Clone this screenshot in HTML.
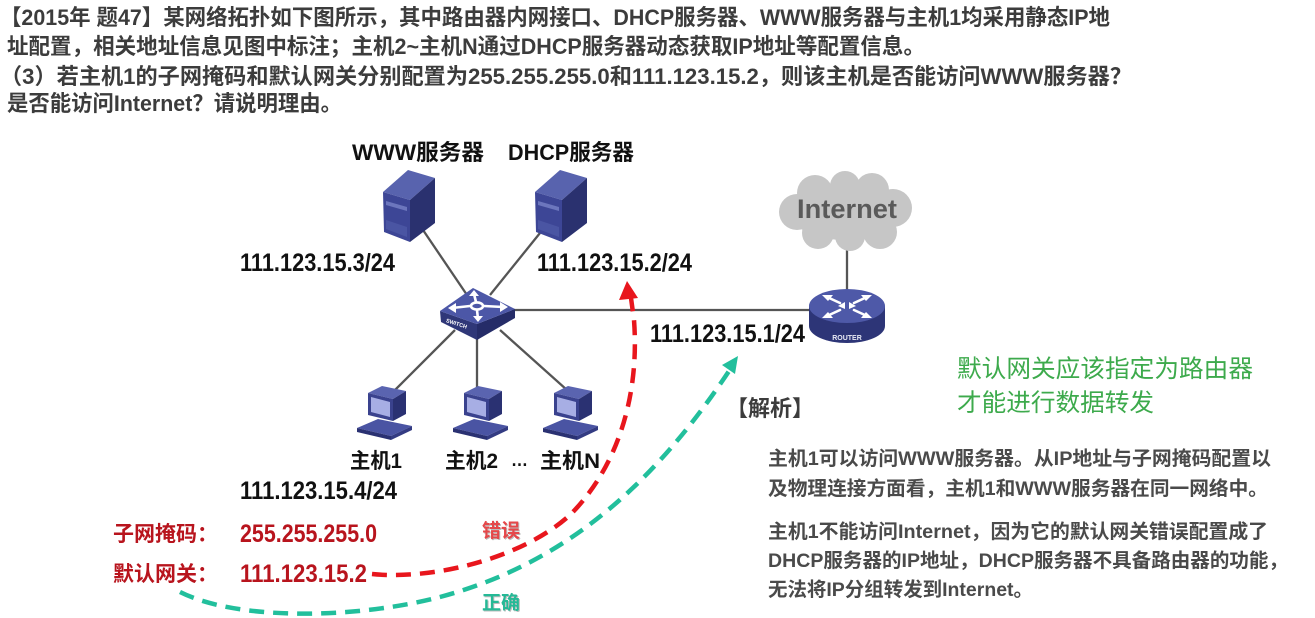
<!DOCTYPE html>
<html><head><meta charset="utf-8"><style>
html,body{margin:0;padding:0;background:#fff;width:1315px;height:618px;overflow:hidden}
svg{display:block}
</style></head><body>
<svg width="1315" height="618" viewBox="0 0 1315 618" xmlns="http://www.w3.org/2000/svg" font-family="'Liberation Sans','Noto Sans CJK SC',sans-serif">
<rect width="1315" height="618" fill="#fff"/>

<!-- Title -->
<g font-size="22" font-weight="bold" fill="#3c3c3c">
<text x="0" y="25" textLength="1110" lengthAdjust="spacingAndGlyphs">【2015年 题47】某网络拓扑如下图所示，其中路由器内网接口、DHCP服务器、WWW服务器与主机1均采用静态IP地</text>
<text x="7" y="54" textLength="918" lengthAdjust="spacingAndGlyphs">址配置，相关地址信息见图中标注；主机2~主机N通过DHCP服务器动态获取IP地址等配置信息。</text>
<text x="0" y="84" textLength="1132" lengthAdjust="spacingAndGlyphs">（3）若主机1的子网掩码和默认网关分别配置为255.255.255.0和111.123.15.2，则该主机是否能访问WWW服务器？</text>
<text x="7" y="111" textLength="335" lengthAdjust="spacingAndGlyphs">是否能访问Internet？请说明理由。</text>
</g>

<!-- network lines -->
<g stroke="#555" stroke-width="2.3" fill="none">
<line x1="423" y1="230" x2="467" y2="295"/>
<line x1="540" y1="233" x2="490" y2="295"/>
<line x1="512" y1="310" x2="812" y2="310"/>
<line x1="847" y1="250" x2="847" y2="292"/>
<line x1="455" y1="330" x2="393" y2="392"/>
<line x1="477" y1="338" x2="477" y2="390"/>
<line x1="500" y1="330" x2="567" y2="390"/>
</g>

<!-- Servers -->
<g>
<polygon points="383,192 408,170 435,178 410,200" fill="#5863ae"/>
<polygon points="383,192 410,200 410,242 384,232" fill="#3d4696"/>
<polygon points="410,200 435,178 435,223 410,242" fill="#2a316f"/>
<polygon points="386,201 407,207 407,211 386,205" fill="#6c76bd"/>
<polygon points="386,220 407,227 407,237 386,229" fill="#4a55a3"/>
</g>
<g transform="translate(152,0)">
<polygon points="383,192 408,170 435,178 410,200" fill="#5863ae"/>
<polygon points="383,192 410,200 410,242 384,232" fill="#3d4696"/>
<polygon points="410,200 435,178 435,223 410,242" fill="#2a316f"/>
<polygon points="386,201 407,207 407,211 386,205" fill="#6c76bd"/>
<polygon points="386,220 407,227 407,237 386,229" fill="#4a55a3"/>
</g>

<!-- Switch -->
<polygon points="440,311 477,324 477,340 441,322" fill="#2f3778"/>
<polygon points="477,324 515,309 515,318 477,340" fill="#252c68"/>
<polygon points="440,311 473,288 515,309 477,324" fill="#4c57a7"/>
<g stroke="#fff" stroke-width="2.6" fill="none" stroke-linecap="round">
<ellipse cx="477" cy="306" rx="6" ry="3.6"/>
<line x1="470" y1="306" x2="452" y2="308"/>
<line x1="484" y1="306" x2="503" y2="307"/>
<line x1="476" y1="302" x2="474" y2="294"/>
<line x1="477" y1="310" x2="478" y2="319"/>
</g>
<g fill="#fff">
<polygon points="448,308 456,303 456,313"/>
<polygon points="508,307 500,302 500,312"/>
<polygon points="474,290 469,296 479,296"/>
<polygon points="478,322 473,316 483,316"/>
</g>
<text x="445" y="326" font-size="5.5" fill="#fff" font-weight="bold" transform="rotate(18 458 326)">SWITCH</text>

<!-- Router -->
<path d="M809,306 L809,326 A38,17 0 0 0 885,326 L885,306 Z" fill="#2d3577"/>
<ellipse cx="847" cy="306" rx="38" ry="17" fill="#4e59a8"/>
<g stroke="#fff" stroke-width="2.6" fill="none" stroke-linecap="round">
<line x1="827" y1="297" x2="840" y2="303"/>
<line x1="867" y1="297" x2="854" y2="303"/>
<line x1="827" y1="316" x2="840" y2="310"/>
<line x1="867" y1="316" x2="854" y2="310"/>
</g>
<g fill="#fff">
<polygon points="822,295 833,295 828,301"/>
<polygon points="872,295 861,295 866,301"/>
<polygon points="838,306 845,302 845,309"/>
<polygon points="856,306 849,302 849,309"/>
<polygon points="822,318 833,318 828,312"/>
<polygon points="872,318 861,318 866,312"/>
</g>
<text x="847" y="340" font-size="7" font-weight="bold" fill="#e8eaf5" text-anchor="middle">ROUTER</text>

<!-- Cloud -->
<g fill="#c6c6c6">
<ellipse cx="845" cy="212" rx="55" ry="28"/>
<circle cx="797" cy="212" r="18"/>
<circle cx="815" cy="193" r="18"/>
<circle cx="845" cy="186" r="15"/>
<circle cx="872" cy="190" r="17"/>
<circle cx="893" cy="208" r="19"/>
<circle cx="880" cy="232" r="17"/>
<circle cx="850" cy="236" r="15"/>
<circle cx="818" cy="233" r="16"/>
</g>
<text x="797" y="218" font-size="27" font-weight="bold" fill="#5a5a5a" textLength="100" lengthAdjust="spacingAndGlyphs">Internet</text>

<!-- Hosts -->
<g>
<polygon points="368,393 382,386 406,391 393,399" fill="#5a64b0"/>
<polygon points="368,393 393,399 393,421 368,415" fill="#3a428e"/>
<polygon points="371,397 390,402 390,417 371,412" fill="#a7aee4"/>
<polygon points="393,399 406,391 406,414 393,421" fill="#2a3172"/>
<polygon points="357,428 378,419 412,426 391,436" fill="#4a54a3"/>
<polygon points="357,428 391,436 391,440 357,432" fill="#2a3172"/>
<polygon points="391,436 412,426 412,430 391,440" fill="#333b82"/>
</g>
<g transform="translate(96,0)">
<polygon points="368,393 382,386 406,391 393,399" fill="#5a64b0"/>
<polygon points="368,393 393,399 393,421 368,415" fill="#3a428e"/>
<polygon points="371,397 390,402 390,417 371,412" fill="#a7aee4"/>
<polygon points="393,399 406,391 406,414 393,421" fill="#2a3172"/>
<polygon points="357,428 378,419 412,426 391,436" fill="#4a54a3"/>
<polygon points="357,428 391,436 391,440 357,432" fill="#2a3172"/>
<polygon points="391,436 412,426 412,430 391,440" fill="#333b82"/>
</g>
<g transform="translate(186,0)">
<polygon points="368,393 382,386 406,391 393,399" fill="#5a64b0"/>
<polygon points="368,393 393,399 393,421 368,415" fill="#3a428e"/>
<polygon points="371,397 390,402 390,417 371,412" fill="#a7aee4"/>
<polygon points="393,399 406,391 406,414 393,421" fill="#2a3172"/>
<polygon points="357,428 378,419 412,426 391,436" fill="#4a54a3"/>
<polygon points="357,428 391,436 391,440 357,432" fill="#2a3172"/>
<polygon points="391,436 412,426 412,430 391,440" fill="#333b82"/>
</g>

<!-- Diagram labels -->
<g font-weight="bold" fill="#111">
<text x="352" y="160" font-size="22" textLength="132" lengthAdjust="spacingAndGlyphs">WWW服务器</text>
<text x="508" y="160" font-size="22" textLength="126" lengthAdjust="spacingAndGlyphs">DHCP服务器</text>
<text x="240" y="271" font-size="25" textLength="155" lengthAdjust="spacingAndGlyphs">111.123.15.3/24</text>
<text x="537" y="271" font-size="25" textLength="155" lengthAdjust="spacingAndGlyphs">111.123.15.2/24</text>
<text x="650" y="342" font-size="25" textLength="155" lengthAdjust="spacingAndGlyphs">111.123.15.1/24</text>
<text x="240" y="499" font-size="25" textLength="157" lengthAdjust="spacingAndGlyphs">111.123.15.4/24</text>
<text x="350" y="468" font-size="21" textLength="52" lengthAdjust="spacingAndGlyphs">主机1</text>
<text x="445" y="468" font-size="21" textLength="53" lengthAdjust="spacingAndGlyphs">主机2</text>
<text x="511" y="466" font-size="18" textLength="17" lengthAdjust="spacingAndGlyphs">…</text>
<text x="540" y="468" font-size="21" textLength="60" lengthAdjust="spacingAndGlyphs">主机N</text>
</g>
<g font-weight="bold" fill="#b8141d">
<text x="113" y="541" font-size="21" textLength="105" lengthAdjust="spacingAndGlyphs">子网掩码：</text>
<text x="240" y="542" font-size="25" textLength="137" lengthAdjust="spacingAndGlyphs">255.255.255.0</text>
<text x="113" y="581" font-size="21" textLength="105" lengthAdjust="spacingAndGlyphs">默认网关：</text>
<text x="240" y="582" font-size="25" textLength="127" lengthAdjust="spacingAndGlyphs">111.123.15.2</text>
</g>

<!-- Dashed curves -->
<path d="M372,574 C430,580 520,560 570,515 C615,470 640,400 634,320 L631,298" fill="none" stroke="#e8161d" stroke-width="4.5" stroke-dasharray="15 9"/>
<polygon points="627,281 619,300 638,298" fill="#e8161d"/>
<path d="M180,592 C240,622 360,618 440,597 C560,565 650,490 729,371" fill="none" stroke="#22bf9c" stroke-width="4.5" stroke-dasharray="15 9"/>
<polygon points="738,356 722,365 735,374" fill="#22bf9c"/>

<text x="483" y="538" font-size="19" font-weight="bold" fill="#bbb" textLength="38" lengthAdjust="spacingAndGlyphs">错误</text>
<text x="482" y="537" font-size="19" font-weight="bold" fill="#e5484a" textLength="38" lengthAdjust="spacingAndGlyphs">错误</text>
<text x="483" y="610" font-size="19" font-weight="bold" fill="#bbb" textLength="38" lengthAdjust="spacingAndGlyphs">正确</text>
<text x="482" y="609" font-size="19" font-weight="bold" fill="#25b996" textLength="38" lengthAdjust="spacingAndGlyphs">正确</text>

<!-- Analysis -->
<text x="726" y="416" font-size="22" font-weight="bold" fill="#3c3c3c" textLength="88" lengthAdjust="spacingAndGlyphs">【解析】</text>
<g font-size="24.5" fill="#3daa4c">
<text x="957" y="377" textLength="296" lengthAdjust="spacingAndGlyphs">默认网关应该指定为路由器</text>
<text x="957" y="411" textLength="197" lengthAdjust="spacingAndGlyphs">才能进行数据转发</text>
</g>
<g font-size="19.5" font-weight="bold" fill="#4a4a4a">
<text x="768" y="465" textLength="503" lengthAdjust="spacingAndGlyphs">主机1可以访问WWW服务器。从IP地址与子网掩码配置以</text>
<text x="768" y="495" textLength="500" lengthAdjust="spacingAndGlyphs">及物理连接方面看，主机1和WWW服务器在同一网络中。</text>
<text x="768" y="538" textLength="500" lengthAdjust="spacingAndGlyphs">主机1不能访问Internet，因为它的默认网关错误配置成了</text>
<text x="768" y="567" textLength="520" lengthAdjust="spacingAndGlyphs">DHCP服务器的IP地址，DHCP服务器不具备路由器的功能，</text>
<text x="768" y="596" textLength="265" lengthAdjust="spacingAndGlyphs">无法将IP分组转发到Internet。</text>
</g>
</svg>
</body></html>
